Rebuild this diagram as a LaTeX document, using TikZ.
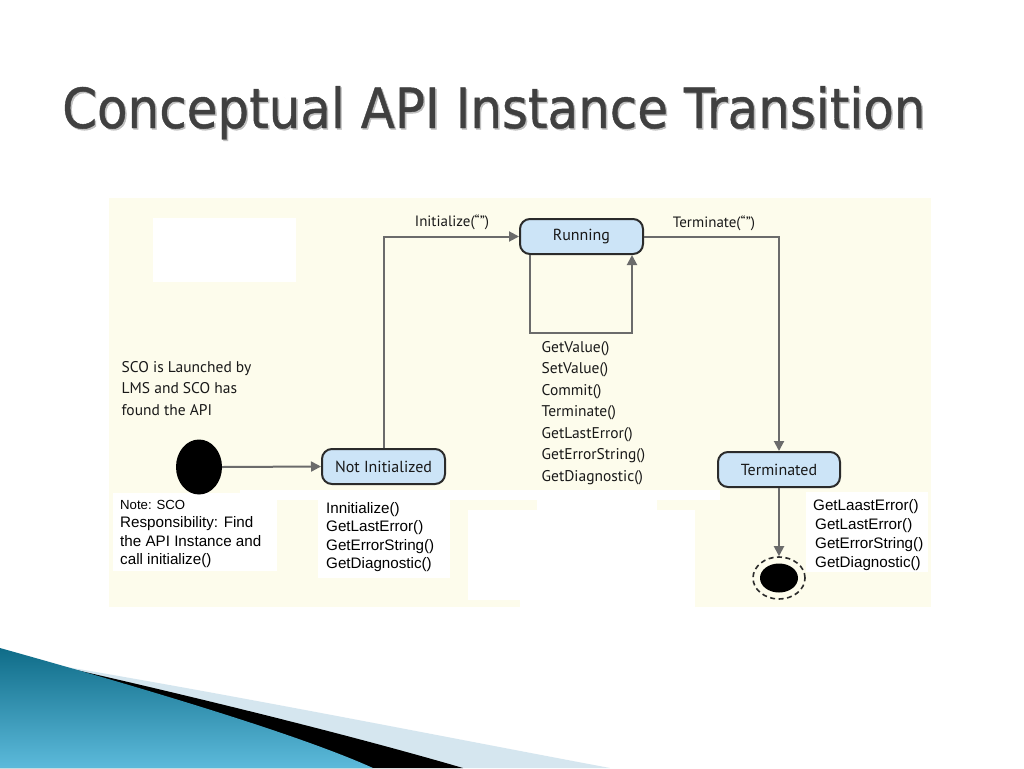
\documentclass[tikz,border=0pt]{standalone}
\usepackage{fontspec}
\setmainfont{PT Sans}
\newfontfamily\titlefont[FakeBold=0.8]{DejaVu Sans}
\newfontfamily\arialfont{Liberation Sans}
\usetikzlibrary{arrows.meta,shapes.geometric,positioning}
\definecolor{cream}{HTML}{FDFCEC}
\definecolor{stfill}{HTML}{CCE4F7}
\definecolor{stline}{HTML}{2B2B2B}
\definecolor{arrgray}{HTML}{6B6B6B}
\definecolor{titlegray}{HTML}{404040}
\definecolor{tealdark}{HTML}{0F6C88}
\definecolor{teallight}{HTML}{5CBADB}
\definecolor{paleblue}{HTML}{D5E6EF}
\tikzset{
  statebox/.style={draw=stline, line width=2pt, fill=stfill, rounded corners=10pt,
    minimum width=123pt, minimum height=35pt, inner sep=0pt,
    font=\fontsize{16}{18}\selectfont, text=black!90},
  conn/.style={draw=arrgray, line width=2pt, -{Triangle[width=10pt,length=10pt]}},
  lbl/.style={font=\fontsize{15}{18}\selectfont, text=black!90, inner sep=0pt},
  mtext/.style={font=\fontsize{15.5}{21.5}\selectfont, text=black!90, align=left, inner sep=0pt, anchor=north west},
  atext/.style={font=\arialfont\fontsize{15.2}{18.5}\selectfont, text=black, align=left, inner sep=0pt, anchor=north west},
  whitepatch/.style={fill=white, draw=none}
}
\begin{document}
\begin{tikzpicture}[x=1pt,y=-1pt]
\useasboundingbox (0,0) rectangle (1024,768);
\fill[white] (0,0) rectangle (1024,768);
% title
\node[anchor=base west, inner sep=0pt, text=black!25] at (63.5,129.5) {\titlefont\resizebox{863pt}{42pt}{Conceptual API Instance Transition}};
\node[anchor=base west, inner sep=0pt, text=titlegray] (title) at (62,128) {\titlefont\resizebox{863pt}{42pt}{Conceptual API Instance Transition}};
% diagram background
\fill[cream] (109,198) rectangle (931,607);
\fill[whitepatch] (153,218) rectangle (296,282);
\fill[whitepatch] (240,490) rectangle (720,500);
\fill[whitepatch] (113,493) rectangle (277,571);
\fill[whitepatch] (318,495) rectangle (450,578);
\fill[whitepatch] (537,493) rectangle (657,512);
\fill[whitepatch] (468,510) rectangle (695,600);
\fill[whitepatch] (520,598) rectangle (695,608);
\fill[whitepatch] (806,492) rectangle (928,572);
% bottom decoration
\fill[paleblue] (55,665) .. controls (250,698) and (450,738) .. (610,768) -- (0,768) -- cycle;
\fill[black] (50,664) .. controls (200,698) and (350,735) .. (463,768) -- (0,768) -- cycle;
\shade[left color=tealdark, right color=teallight, shading angle=0] (0,648) .. controls (150,690) and (300,735) .. (373,768) -- (0,768) -- cycle;
% states
\node[ellipse, fill=black, minimum width=46pt, minimum height=55pt, inner sep=0pt] (init) at (199,467) {};
\node[statebox] (notinit) at (383.5,466.5) {Not Initialized};
\node[statebox] (running) at (581.5,236.5) {Running};
\node[statebox, minimum width=122pt] (terminated) at (779,469.5) {Terminated};
\node[ellipse, draw=stline, dashed, line width=1.6pt, dash pattern=on 5pt off 3.5pt, minimum width=52pt, minimum height=42pt, inner sep=0pt] (final) at (779,578) {};
\node[ellipse, fill=black, minimum width=38pt, minimum height=29pt, inner sep=0pt] (finalin) at (779,578) {};
% connectors
\draw[conn] (init.east) -- (notinit.west);
\draw[conn] (notinit.north) |- (running.west);
\coordinate (loopA) at ([xshift=-52pt]running.south);
\coordinate (loopB) at ([xshift=50.5pt]running.south);
\draw[conn] (loopA) -- ++(0,78) -| (loopB);
\draw[conn] (running.east) -| (terminated.north);
\draw[conn] (terminated.south) -- (final.north);
% labels
\node[lbl] (linit) at (452,222) {Initialize(“”)};
\node[lbl] (lterm) at (714,223) {Terminate(“”)};
\node[mtext] (sco) at (121.5,361) {SCO is Launched by\\LMS and SCO has\\found the API};
\node[mtext] (runlist) at (541.5,341) {GetValue()\\SetValue()\\Commit()\\Terminate()\\GetLastError()\\GetErrorString()\\GetDiagnostic()};
\node[atext] (note) at (120,500) {{\fontsize{13.2}{18.5}\selectfont Note: SCO}\\Responsibility: Find\\the API Instance and\\call initialize()};
\node[atext] (nilist) at (326,502) {Innitialize()\\GetLastError()\\GetErrorString()\\GetDiagnostic()};
\node[atext, font=\arialfont\fontsize{15.2}{19}\selectfont] (tlist) at (813,499.5) {GetLaastError()\\\hspace*{2pt}GetLastError()\\\hspace*{2pt}GetErrorString()\\\hspace*{2pt}GetDiagnostic()};
\end{tikzpicture}
\end{document}
